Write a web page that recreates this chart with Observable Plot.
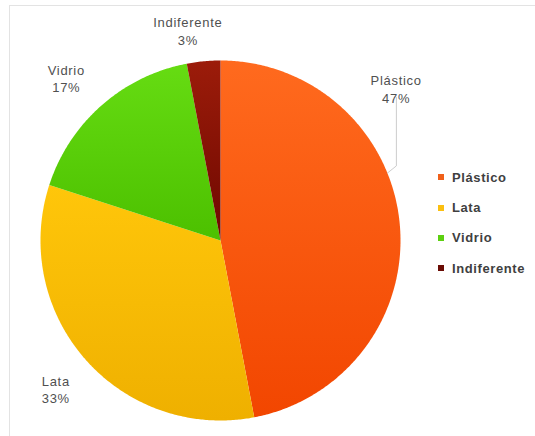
<!DOCTYPE html>
<html>
<head>
<meta charset="utf-8">
<script src="https://cdn.jsdelivr.net/npm/d3@7"></script>
<script src="https://cdn.jsdelivr.net/npm/@observablehq/plot@0.6"></script>
<style>
  html, body { margin: 0; padding: 0; background: #fff; }
  #wrap { position: relative; width: 535px; height: 436px; overflow: hidden; font-family: "Liberation Sans", Arial, sans-serif; }
  #frame { position: absolute; left: 9px; top: 5px; right: -3px; bottom: -3px; border-top: 1px solid #e3e3e3; border-left: 1px solid #e3e3e3; pointer-events: none; }
  #chart { position: absolute; left: 0; top: 0; }
  #chart text { letter-spacing: 0.7px; }
  #legend { position: absolute; left: 438px; top: 162px; }
  .item { display: flex; align-items: center; height: 30.4px; font-size: 13px; font-weight: bold; color: #404040; letter-spacing: 0.6px; white-space: nowrap; }
  .sw { width: 6px; height: 6px; margin-right: 8px; flex: none; }
</style>
</head>
<body>
<div id="wrap">
  <div id="frame"></div>
  <div id="chart"></div>
  <div id="legend"></div>
</div>
<script>
// ---- data ----
const categories = ["Plástico", "Lata", "Vidrio", "Indiferente"];
const percentages = [47, 33, 17, 3];
const percentLabels = ["47%", "33%", "17%", "3%"];

// ---- style ----
const colorsTop = ["#ff6a1e", "#ffc60a", "#66dc12", "#9c1c0a"];
const colorsBottom = ["#f24600", "#efb000", "#4cc000", "#6e0800"];
const legendColors = ["#f0601a", "#fbbf10", "#5cd010", "#6a0c04"];
// label placement: radius multiple and pixel nudges (layout only)
const labelRadius = 1.22;
const labelNudge = { "Plástico": [-43, -132], "Lata": [0, 3], "Vidrio": [-9, 2], "Indiferente": [-12, 8] };
const leaderAngle = 68; // degrees clockwise from top, where the Plástico leader meets the pie

// ---- geometry from data ----
const total = d3.sum(percentages);
const rad = deg => deg * Math.PI / 180;
let acc = 0;
const slices = categories.map((c, i) => {
  const a0 = acc / total * 360;
  acc += percentages[i];
  const a1 = acc / total * 360;
  return { cat: c, i, a0, a1, mid: (a0 + a1) / 2, label: c + "\n" + percentLabels[i] };
});
function slicePoints(s) {
  const pts = [{ x: 0, y: 0 }];
  const n = Math.max(2, Math.ceil((s.a1 - s.a0) / 0.5));
  for (let k = 0; k <= n; k++) {
    const a = rad(s.a0 + (s.a1 - s.a0) * k / n);
    pts.push({ x: Math.sin(a), y: Math.cos(a) });
  }
  return pts;
}

const marks = [];
slices.forEach(s => {
  marks.push(Plot.line(slicePoints(s), { x: "x", y: "y", fill: `url(#grad${s.i})`, stroke: "none", curve: "linear" }));
});

// leader line for Plástico label
const le = { x: Math.sin(rad(leaderAngle)), y: Math.cos(rad(leaderAngle)) };
marks.push(Plot.line([le, { x: le.x + 0.05, y: le.y + 0.04 }, { x: le.x + 0.05, y: le.y + 0.42 }],
  { x: "x", y: "y", stroke: "#c0c0c0", strokeWidth: 0.8 }));

slices.forEach(s => {
  const [ndx, ndy] = labelNudge[s.cat];
  marks.push(Plot.text([s], {
    x: d => Math.sin(rad(d.mid)) * labelRadius,
    y: d => Math.cos(rad(d.mid)) * labelRadius,
    text: "label",
    dx: ndx, dy: ndy,
    fontSize: 13,
    lineHeight: 1.38,
    fill: "#505050",
    textAnchor: "middle"
  }));
});

const svg = Plot.plot({
  width: 535,
  height: 436,
  marginLeft: 40,
  marginRight: 135,
  marginTop: 60,
  marginBottom: 16,
  x: { domain: [-1, 1], axis: null },
  y: { domain: [-1, 1], axis: null },
  style: { fontFamily: "'Liberation Sans', Arial, sans-serif", background: "transparent", overflow: "visible" },
  marks
});

// gradients
const defs = d3.select(svg).insert("defs", ":first-child");
slices.forEach(s => {
  const g = defs.append("linearGradient").attr("id", `grad${s.i}`).attr("x1", 0).attr("y1", 0).attr("x2", 0).attr("y2", 1);
  g.append("stop").attr("offset", "0%").attr("stop-color", colorsTop[s.i]);
  g.append("stop").attr("offset", "100%").attr("stop-color", colorsBottom[s.i]);
});

document.getElementById("chart").appendChild(svg);

// legend
const legend = d3.select("#legend");
categories.forEach((c, i) => {
  const row = legend.append("div").attr("class", "item");
  row.append("span").attr("class", "sw").style("background", legendColors[i]);
  row.append("span").text(c);
});
</script>
</body>
</html>
